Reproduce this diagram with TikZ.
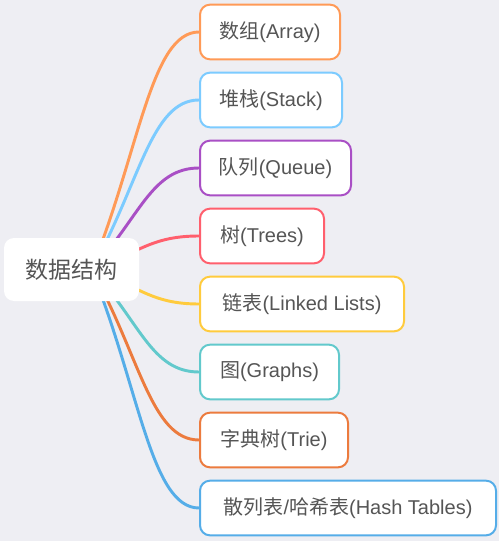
\documentclass[tikz,border=0pt]{standalone}
\usepackage{fontspec}
\setmainfont{Liberation Sans}
\newfontfamily\cjkfont{Noto Sans CJK SC}
\usetikzlibrary{calc,backgrounds}

\definecolor{bgcol}{HTML}{EEEEF3}
\definecolor{textcol}{HTML}{555555}
\definecolor{corange}{HTML}{FF9A57}
\definecolor{cskyblue}{HTML}{7CCBFF}
\definecolor{cpurple}{HTML}{A94FC5}
\definecolor{cred}{HTML}{FF5F6D}
\definecolor{cyellow}{HTML}{FFCB3D}
\definecolor{cteal}{HTML}{62C9CC}
\definecolor{cdarkorange}{HTML}{EC7B3E}
\definecolor{cblue}{HTML}{55ADE8}

\begin{document}
\begin{tikzpicture}[x=0.75pt,y=-0.75pt,
    item/.style={draw=#1,line width=1.5pt,fill=white,rounded corners=7.5pt,anchor=west,
      minimum height=41pt,inner xsep=0pt,text=textcol,font=\fontsize{15pt}{18pt}\selectfont},
    link/.style={draw=#1,line width=2.2pt,line cap=round}]
    \pgfmathsetmacro{\leftx}{199}
    % the centre topic
    \node[fill=white,rounded corners=7.5pt,minimum width=101.25pt,minimum height=47.25pt,
      text=textcol,font=\fontsize{17.25pt}{20pt}\selectfont\cjkfont] (root) at (71.5,269.5) {数据结构};
    \coordinate (hub) at ($(root.center)+(20,0)$);
    % the branches
    \node[item=corange,minimum width=105pt] (array) at (\leftx,32) {{\cjkfont 数组}(Array)};
    \node[item=cskyblue,minimum width=106.5pt] (stack) at (\leftx,100) {{\cjkfont 堆栈}(Stack)};
    \node[item=cpurple,minimum width=113.25pt] (queue) at (\leftx,168) {{\cjkfont 队列}(Queue)};
    \node[item=cred,minimum width=93pt] (trees) at (\leftx,236) {{\cjkfont 树}(Trees)};
    \node[item=cyellow,minimum width=153pt] (lists) at (\leftx,304) {{\cjkfont 链表}(Linked Lists)};
    \node[item=cteal,minimum width=104.25pt] (graphs) at (\leftx,372) {{\cjkfont 图}(Graphs)};
    \node[item=cdarkorange,minimum width=111pt] (trie) at (\leftx,440) {{\cjkfont 字典树}(Trie)};
    \node[item=cblue,minimum width=222pt] (hash) at (\leftx,508) {{\cjkfont 散列表}/{\cjkfont 哈希表}(Hash Tables)};
    \begin{scope}[on background layer]
    \fill[bgcol] (0,0) rectangle (499,541);
    \draw[link=corange] (hub) .. controls +(48,-119) and +(-48,0) .. (array.west);
    \draw[link=cskyblue] (hub) .. controls +(48,-85) and +(-48,0) .. (stack.west);
    \draw[link=cpurple] (hub) .. controls +(48,-51) and +(-48,0) .. (queue.west);
    \draw[link=cred] (hub) .. controls +(48,-17) and +(-48,0) .. (trees.west);
    \draw[link=cyellow] (hub) .. controls +(48,17) and +(-48,0) .. (lists.west);
    \draw[link=cteal] (hub) .. controls +(48,51) and +(-48,0) .. (graphs.west);
    \draw[link=cdarkorange] (hub) .. controls +(48,85) and +(-48,0) .. (trie.west);
    \draw[link=cblue] (hub) .. controls +(48,119) and +(-48,0) .. (hash.west);
    \end{scope}
\end{tikzpicture}
\end{document}
